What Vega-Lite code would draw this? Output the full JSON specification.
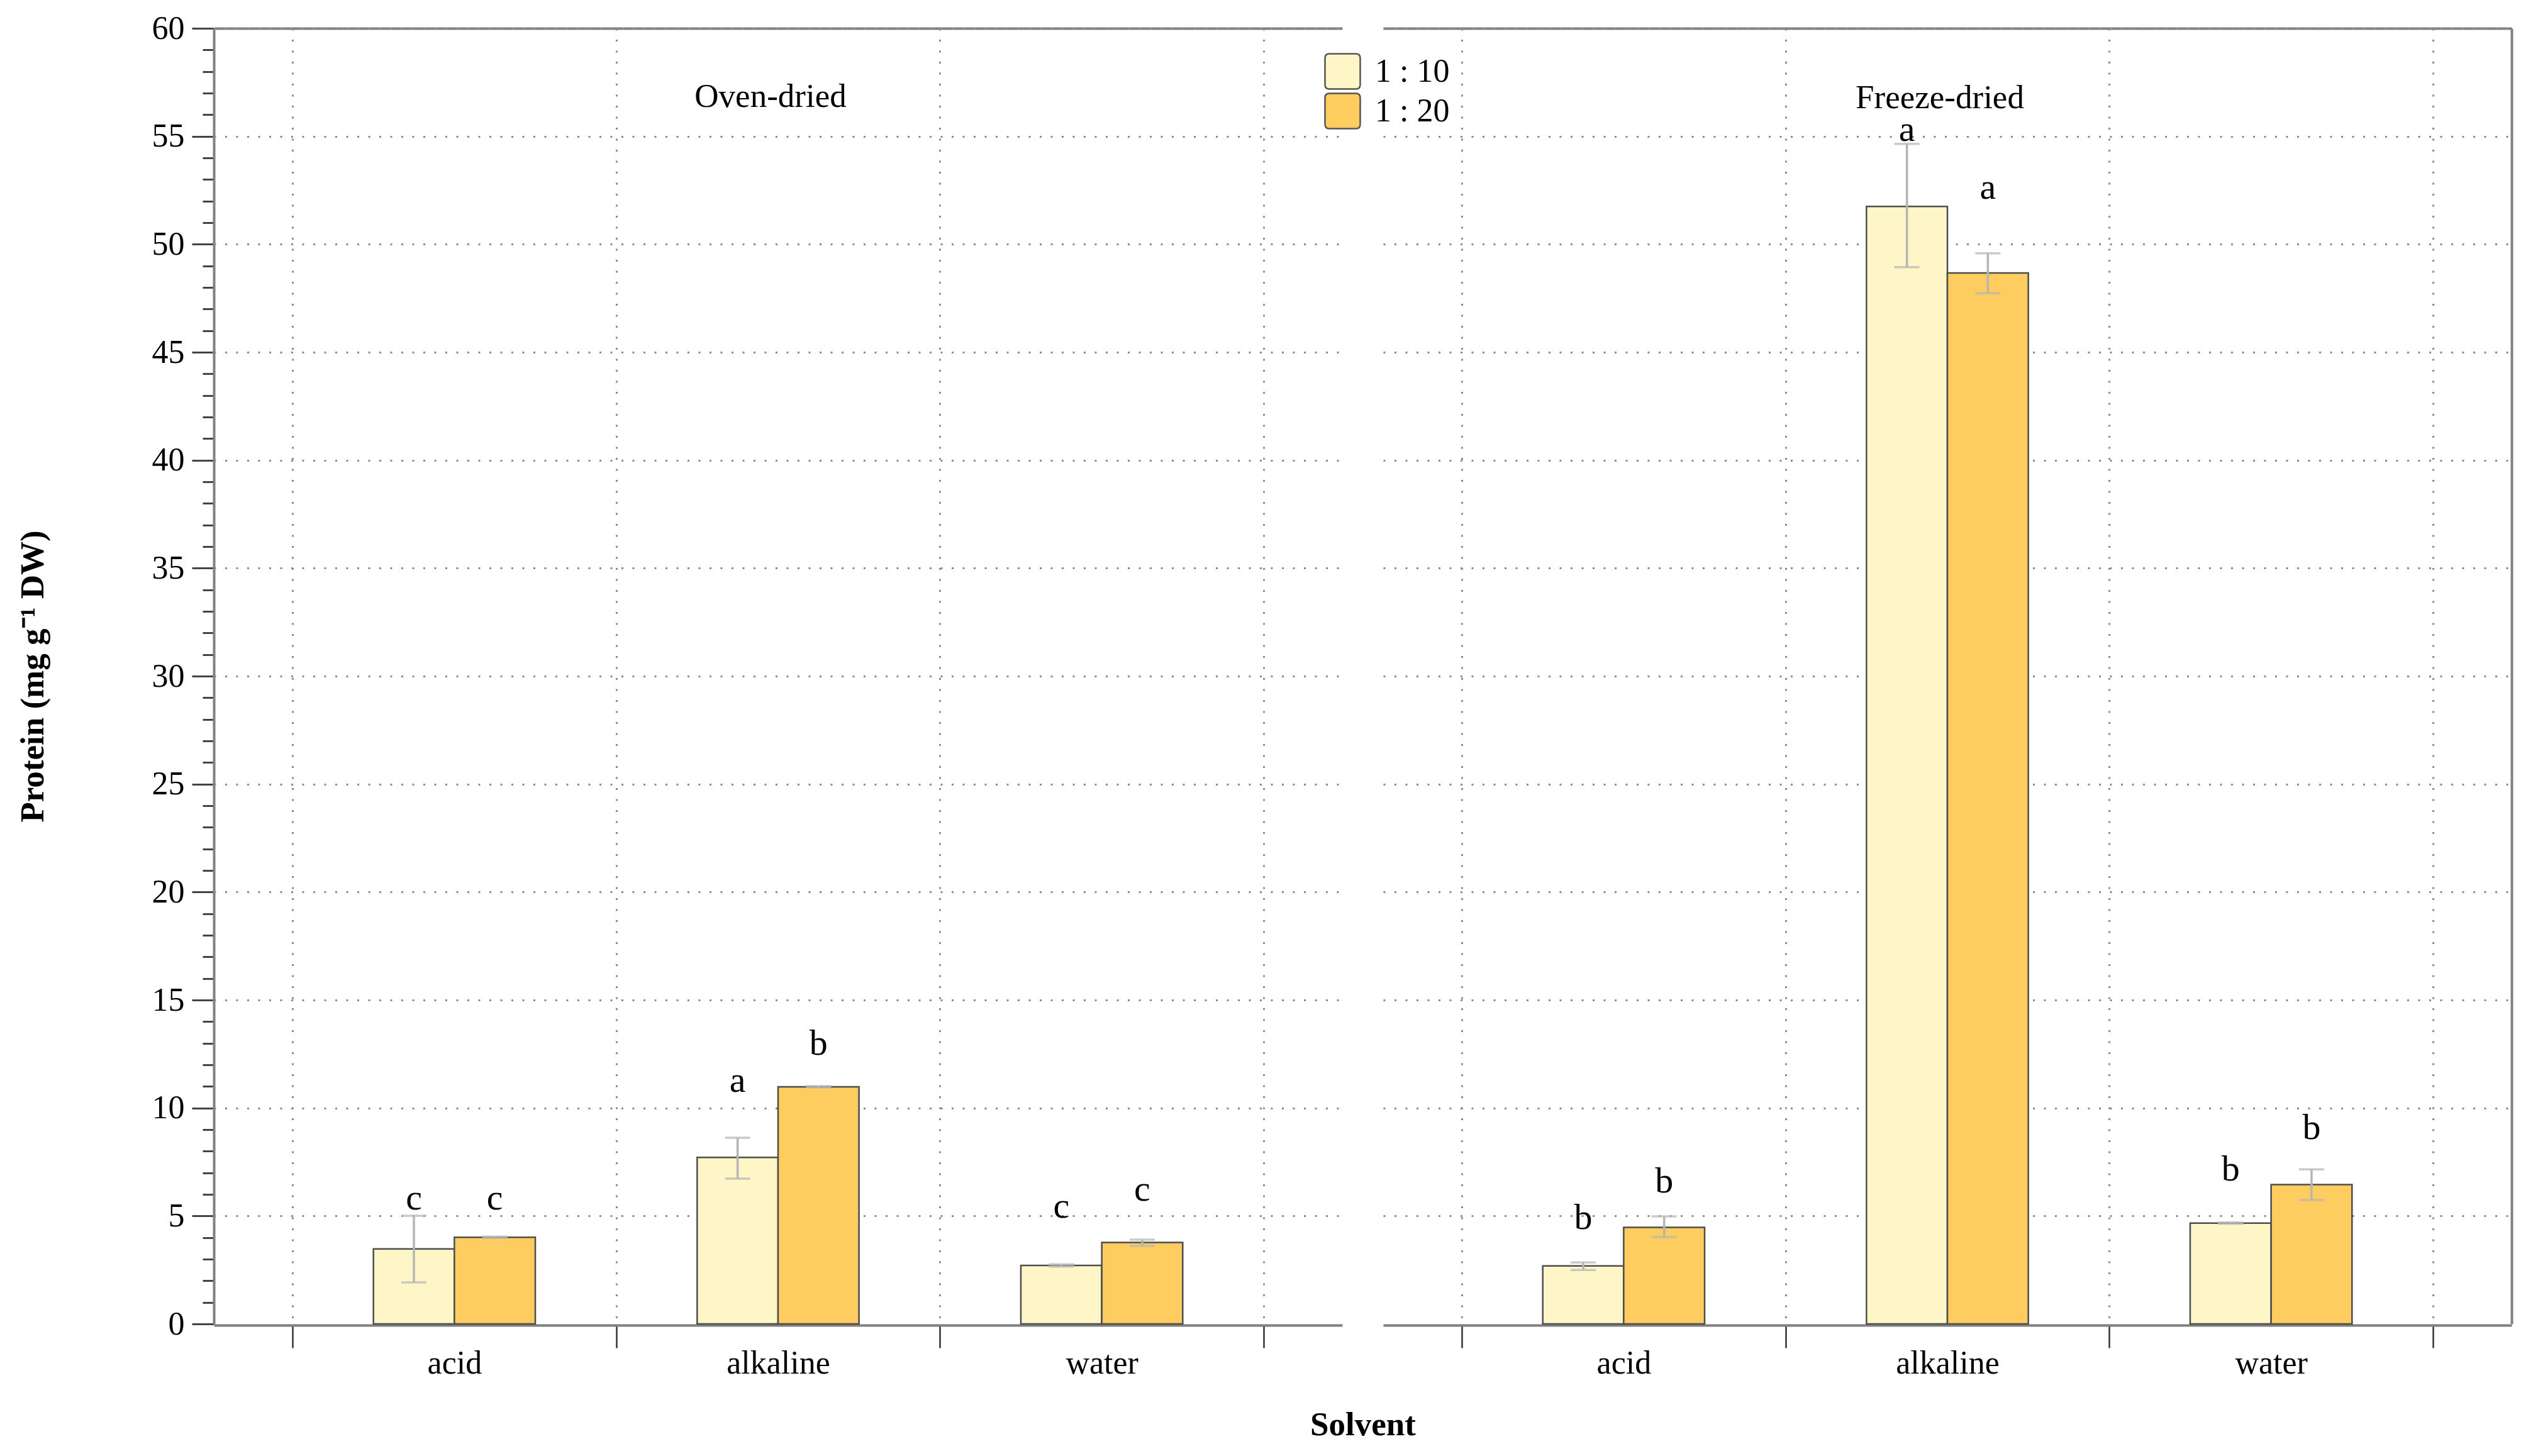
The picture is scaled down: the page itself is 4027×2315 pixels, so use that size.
{
  "$schema": "https://vega.github.io/schema/vega-lite/v6.json",
  "padding": {"left": 26, "top": 19, "right": 5, "bottom": 5},
  "background": "white",
  "data": {
    "values": [
      {"method": "Oven-dried", "solvent": "acid", "ratio": "1 : 10", "mean": 3.47, "lo": 1.92, "hi": 5.01, "letter": "c", "letter_y": 5.3},
      {"method": "Oven-dried", "solvent": "acid", "ratio": "1 : 20", "mean": 4.01, "lo": 3.98, "hi": 4.04, "letter": "c", "letter_y": 5.3},
      {"method": "Oven-dried", "solvent": "alkaline", "ratio": "1 : 10", "mean": 7.71, "lo": 6.73, "hi": 8.62, "letter": "a", "letter_y": 10.76, "title_y": 56.35},
      {"method": "Oven-dried", "solvent": "alkaline", "ratio": "1 : 20", "mean": 10.98, "lo": 10.95, "hi": 11.01, "letter": "b", "letter_y": 12.47},
      {"method": "Oven-dried", "solvent": "water", "ratio": "1 : 10", "mean": 2.71, "lo": 2.66, "hi": 2.76, "letter": "c", "letter_y": 4.93},
      {"method": "Oven-dried", "solvent": "water", "ratio": "1 : 20", "mean": 3.77, "lo": 3.62, "hi": 3.9, "letter": "c", "letter_y": 5.7},
      {"method": "Freeze-dried", "solvent": "acid", "ratio": "1 : 10", "mean": 2.69, "lo": 2.5, "hi": 2.85, "letter": "b", "letter_y": 4.41},
      {"method": "Freeze-dried", "solvent": "acid", "ratio": "1 : 20", "mean": 4.47, "lo": 4.02, "hi": 4.98, "letter": "b", "letter_y": 6.1},
      {"method": "Freeze-dried", "solvent": "alkaline", "ratio": "1 : 10", "mean": 51.75, "lo": 48.94, "hi": 54.65, "letter": "a", "letter_y": 54.8, "title_y": 56.3},
      {"method": "Freeze-dried", "solvent": "alkaline", "ratio": "1 : 20", "mean": 48.67, "lo": 47.73, "hi": 49.58, "letter": "a", "letter_y": 52.1},
      {"method": "Freeze-dried", "solvent": "water", "ratio": "1 : 10", "mean": 4.67, "lo": 4.64, "hi": 4.7, "letter": "b", "letter_y": 6.64},
      {"method": "Freeze-dried", "solvent": "water", "ratio": "1 : 20", "mean": 6.45, "lo": 5.74, "hi": 7.16, "letter": "b", "letter_y": 8.57}
    ]
  },
  "facet": {
    "column": {
      "field": "method",
      "type": "nominal",
      "sort": ["Oven-dried", "Freeze-dried"],
      "header": {
        "labels": false,
        "title": "Solvent",
        "titleOrient": "bottom",
        "titleFont": "Liberation Serif",
        "titleFontWeight": "bold",
        "titleFontSize": 53,
        "titleColor": "black",
        "titlePadding": 37
      }
    }
  },
  "spacing": 65,
  "spec": {
    "width": 1794,
    "height": 2060,
    "layer": [
      {
        "mark": {"type": "bar", "stroke": "#4d4d4d", "strokeWidth": 2.5},
        "encoding": {
          "x": {
            "field": "solvent",
            "type": "nominal",
            "sort": ["acid", "alkaline", "water"],
            "scale": {"paddingInner": 0, "paddingOuter": 0.243},
            "axis": {
              "title": null,
              "orient": "bottom",
              "tickBand": "extent",
              "grid": true,
              "gridColor": "#8c8c8c",
              "gridWidth": 3,
              "gridDash": [3, 14.5],
              "domainColor": "#808080",
              "domainWidth": 4,
              "tickColor": "#333333",
              "tickWidth": 2.5,
              "tickSize": 36,
              "labelAngle": 0,
              "labelFont": "Liberation Serif",
              "labelFontSize": 52,
              "labelColor": "black",
              "labelPadding": -1
            }
          },
          "xOffset": {"field": "ratio", "type": "nominal", "scale": {"paddingInner": 0, "paddingOuter": 1}},
          "y": {
            "field": "mean",
            "type": "quantitative",
            "scale": {"domain": [0, 60], "nice": false},
            "axis": {
              "title": "Protein (mg g⁻¹ DW)",
              "orient": "left",
              "values": [0,1,2,3,4,5,6,7,8,9,10,11,12,13,14,15,16,17,18,19,20,21,22,23,24,25,26,27,28,29,30,31,32,33,34,35,36,37,38,39,40,41,42,43,44,45,46,47,48,49,50,51,52,53,54,55,56,57,58,59,60],
              "labelExpr": "datum.value % 5 === 0 ? datum.label : ''",
              "tickSize": {"condition": {"test": "datum.value % 5 === 0", "value": 35}, "value": 18},
              "tickColor": "#444444",
              "tickWidth": 3,
              "domainColor": "#808080",
              "domainWidth": 4,
              "grid": true,
              "gridColor": "#8c8c8c",
              "gridWidth": 3,
              "gridDash": [3, 14.5],
              "gridOpacity": {"condition": {"test": "datum.value % 5 === 0 && datum.value > 0", "value": 1}, "value": 0},
              "labelFont": "Liberation Serif",
              "labelFontSize": 52,
              "labelColor": "black",
              "labelPadding": 12,
              "labelFlush": false,
              "labelOverlap": false,
              "titleFont": "Liberation Serif",
              "titleFontWeight": "bold",
              "titleFontSize": 53,
              "titleColor": "black",
              "titlePadding": 162
            }
          },
          "color": {
            "field": "ratio",
            "type": "nominal",
            "scale": {"domain": ["1 : 10", "1 : 20"], "range": ["#FFF6C8", "#FECC5F"]},
            "legend": {
              "orient": "none",
              "legendX": 1765,
              "legendY": 39,
              "title": null,
              "padding": 0,
              "symbolType": "M -0.75 -1 H 0.75 Q 1 -1 1 -0.75 V 0.75 Q 1 1 0.75 1 H -0.75 Q -1 1 -1 0.75 V -0.75 Q -1 -1 -0.75 -1 Z",
              "symbolSize": 3136,
              "symbolStrokeColor": "#555555",
              "symbolStrokeWidth": 2.5,
              "symbolOpacity": 1,
              "labelFont": "Liberation Serif",
              "labelFontSize": 52,
              "labelColor": "black",
              "labelOffset": 22,
              "rowPadding": -4
            }
          }
        }
      },
      {
        "mark": {"type": "rule", "color": "#b5b5b5", "strokeWidth": 3.5},
        "encoding": {
          "x": {"field": "solvent", "type": "nominal", "sort": ["acid", "alkaline", "water"], "axis": null},
          "xOffset": {"field": "ratio", "type": "nominal"},
          "y": {
            "field": "lo",
            "type": "quantitative",
            "scale": {"domain": [0, 60], "nice": false},
            "axis": {"orient": "right", "title": null, "labels": false, "ticks": false, "grid": false, "domain": true, "domainColor": "#808080", "domainWidth": 4}
          },
          "y2": {"field": "hi"}
        }
      },
      {
        "mark": {"type": "tick", "color": "#b5b5b5", "thickness": 3.5, "size": 40},
        "encoding": {
          "x": {"field": "solvent", "type": "nominal", "sort": ["acid", "alkaline", "water"], "axis": null},
          "xOffset": {"field": "ratio", "type": "nominal"},
          "y": {"field": "lo", "type": "quantitative", "scale": {"domain": [0, 60], "nice": false}, "axis": null}
        }
      },
      {
        "mark": {"type": "tick", "color": "#b5b5b5", "thickness": 3.5, "size": 40},
        "encoding": {
          "x": {"field": "solvent", "type": "nominal", "sort": ["acid", "alkaline", "water"], "axis": null},
          "xOffset": {"field": "ratio", "type": "nominal"},
          "y": {"field": "hi", "type": "quantitative", "scale": {"domain": [0, 60], "nice": false}, "axis": null}
        }
      },
      {
        "mark": {"type": "text", "font": "Liberation Serif", "fontSize": 58, "baseline": "alphabetic", "color": "black"},
        "encoding": {
          "x": {"field": "solvent", "type": "nominal", "sort": ["acid", "alkaline", "water"], "axis": null},
          "xOffset": {"field": "ratio", "type": "nominal"},
          "y": {"field": "letter_y", "type": "quantitative", "scale": {"domain": [0, 60], "nice": false}, "axis": null},
          "text": {"field": "letter"}
        }
      },
      {
        "transform": [{"filter": "datum.solvent === 'alkaline' && datum.ratio === '1 : 10'"}],
        "mark": {"type": "text", "font": "Liberation Serif", "fontSize": 53, "baseline": "alphabetic", "color": "black", "dx": -12},
        "encoding": {
          "x": {
            "field": "solvent",
            "type": "nominal",
            "sort": ["acid", "alkaline", "water"],
            "axis": {"orient": "top", "title": null, "labels": false, "ticks": false, "grid": false, "domain": true, "domainColor": "#808080", "domainWidth": 4}
          },
          "y": {"field": "title_y", "type": "quantitative", "scale": {"domain": [0, 60], "nice": false}, "axis": null},
          "text": {"field": "method"}
        }
      }
    ],
    "resolve": {"axis": {"y": "independent", "x": "independent"}}
  },
  "config": {
    "view": {"stroke": null},
    "font": "Liberation Serif"
  }
}
